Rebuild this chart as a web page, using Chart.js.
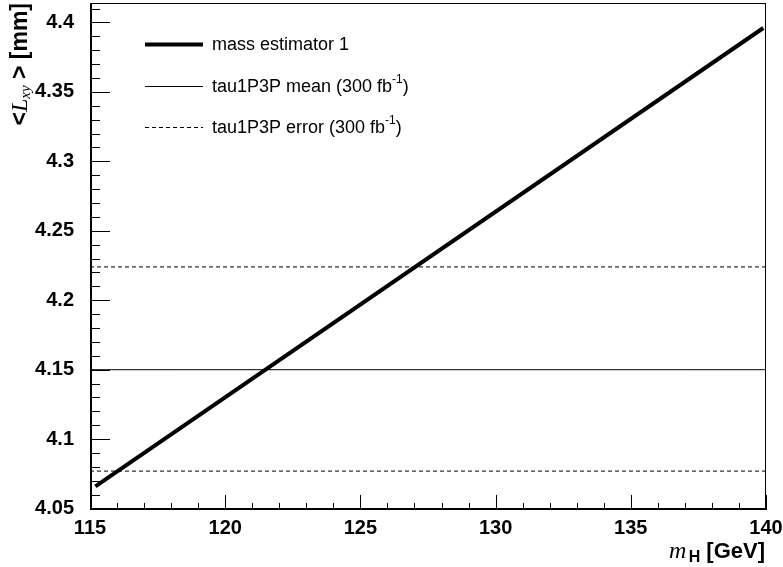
<!DOCTYPE html>
<html>
<head>
<meta charset="utf-8">
<script src="https://cdn.jsdelivr.net/npm/chart.js@4"></script>
<style>
  html, body { margin: 0; padding: 0; background: #fff; }
  #wrap { width: 783px; height: 567px; }
</style>
</head>
<body>
<div id="wrap"><canvas id="myChart" width="783" height="567"></canvas></div>
<script>
// values
const massX = [115.2, 139.9];
const massY = [4.066, 4.396];
const rangeX = [115, 140];
const meanValue = 4.15;
const errorLow = 4.077;
const errorHigh = 4.224;
const legendLabels = ["mass estimator 1", "tau1P3P mean (300 fb", "tau1P3P error (300 fb"];

const SANS = '"Liberation Sans", Arial, sans-serif';
const SERIF = '"Liberation Serif", "Times New Roman", serif';

function pts(xs, ys) {
  return xs.map((x, i) => ({ x: x, y: ys[i] }));
}

// draws ROOT-like inner ticks, frame, legend and axis titles
const rootStyle = {
  id: "rootStyle",
  afterDraw(chart) {
    const ctx = chart.ctx;
    const a = chart.chartArea;
    const xs = chart.scales.x;
    const ys = chart.scales.y;
    ctx.save();
    ctx.strokeStyle = "#000";
    ctx.lineWidth = 1;
    // frame
    ctx.strokeRect(a.left + 0.5, a.top + 0.5, a.right - a.left - 1, a.bottom - a.top - 1);
    ctx.beginPath();
    ctx.moveTo(a.left + 1.5, a.top);
    ctx.lineTo(a.left + 1.5, a.bottom);
    ctx.moveTo(a.left, a.bottom - 1.5);
    ctx.lineTo(a.right, a.bottom - 1.5);
    ctx.stroke();
    // y ticks
    ctx.beginPath();
    for (let i = 0; i <= 36; i++) {
      const v = 4.05 + i * 0.01;
      if (v > ys.max) break;
      const py = Math.round(ys.getPixelForValue(v)) + 0.5;
      const len = i % 5 === 0 ? 20 : 10;
      ctx.moveTo(a.left, py);
      ctx.lineTo(a.left + len, py);
    }
    // x ticks
    for (let v = rangeX[0]; v <= rangeX[1]; v++) {
      const px = Math.round(xs.getPixelForValue(v)) + 0.5;
      const len = v % 5 === 0 ? 15 : 7;
      ctx.moveTo(px, a.bottom);
      ctx.lineTo(px, a.bottom - len);
    }
    ctx.stroke();

    // legend
    const rows = [44, 86, 127];
    const styles = [[4, []], [1, []], [1, [4, 3]]];
    ctx.fillStyle = "#000";
    ctx.textBaseline = "middle";
    ctx.textAlign = "left";
    rows.forEach((ry, i) => {
      ctx.beginPath();
      ctx.lineWidth = styles[i][0];
      ctx.setLineDash(styles[i][1]);
      ctx.moveTo(145, ry + 0.5);
      ctx.lineTo(203, ry + 0.5);
      ctx.stroke();
      ctx.setLineDash([]);
      ctx.font = "18px " + SANS;
      ctx.fillText(legendLabels[i], 212, ry + 1);
      if (i > 0) {
        let x = 212 + ctx.measureText(legendLabels[i]).width;
        ctx.font = "12px " + SANS;
        ctx.fillText("-1", x, ry - 6);
        x += ctx.measureText("-1").width;
        ctx.font = "18px " + SANS;
        ctx.fillText(")", x, ry + 1);
      }
    });

    // x title
    ctx.textBaseline = "alphabetic";
    const xParts = [
      ["m", "italic 24px " + SERIF, 0],
      [" ", "bold 8px " + SANS, 0],
      ["H", "bold 16px " + SANS, 4],
      [" [GeV]", "bold 22px " + SANS, 0]
    ];
    let total = 0;
    xParts.forEach(p => { ctx.font = p[1]; total += ctx.measureText(p[0]).width; });
    let cx = 765 - total;
    xParts.forEach(p => {
      ctx.font = p[1];
      ctx.fillText(p[0], cx, 558 + p[2]);
      cx += ctx.measureText(p[0]).width;
    });

    // y title (rotated)
    const yParts = [
      ["<", "bold 23px " + SANS, 0],
      ["L", "italic 24px " + SERIF, 0],
      ["xy", "italic 15px " + SERIF, 3],
      [" > [mm]", "bold 23px " + SANS, 0]
    ];
    ctx.translate(27, 0);
    ctx.rotate(-Math.PI / 2);
    total = 0;
    yParts.forEach(p => { ctx.font = p[1]; total += ctx.measureText(p[0]).width; });
    let rx = -3 - total;
    yParts.forEach(p => {
      ctx.font = p[1];
      ctx.fillText(p[0], rx, p[2]);
      rx += ctx.measureText(p[0]).width;
    });
    ctx.restore();
  }
};

const ctx = document.getElementById("myChart").getContext("2d");
const chart = new Chart(ctx, {
  type: "scatter",
  data: {
    datasets: [
      {
        label: legendLabels[0],
        data: pts(massX, massY),
        showLine: true,
        borderColor: "#000",
        borderWidth: 4,
        pointRadius: 0
      },
      {
        label: "mean",
        data: pts(rangeX, [meanValue, meanValue]),
        showLine: true,
        borderColor: "#000",
        borderWidth: 1,
        pointRadius: 0
      },
      {
        label: "error low",
        data: pts(rangeX, [errorLow, errorLow]),
        showLine: true,
        borderColor: "#000",
        borderWidth: 1,
        borderDash: [4, 3],
        pointRadius: 0
      },
      {
        label: "error high",
        data: pts(rangeX, [errorHigh, errorHigh]),
        showLine: true,
        borderColor: "#000",
        borderWidth: 1,
        borderDash: [4, 3],
        pointRadius: 0
      }
    ]
  },
  options: {
    responsive: false,
    animation: false,
    layout: { padding: { left: 0, right: 17, top: 3, bottom: 0 } },
    plugins: { legend: { display: false }, tooltip: { enabled: false } },
    scales: {
      x: {
        type: "linear",
        min: rangeX[0],
        max: rangeX[1],
        grid: { display: false },
        border: { display: false },
        ticks: {
          stepSize: 5,
          includeBounds: false,
          color: "#000",
          padding: -2,
          font: { family: SANS, size: 20, weight: "bold" },
          maxRotation: 0
        },
        afterFit(s) {
          s.height = 57;
          s.paddingLeft = 0;
          s.paddingRight = 0;
        }
      },
      y: {
        min: 4.049,
        max: 4.414,
        grid: { display: false },
        border: { display: false },
        ticks: {
          stepSize: 0.05,
          includeBounds: false,
          color: "#000",
          padding: 8,
          font: { family: SANS, size: 20, weight: "bold" },
          callback: v => parseFloat(v.toFixed(2)).toString()
        },
        afterFit(s) {
          s.width = 90;
          s.paddingTop = 0;
          s.paddingBottom = 0;
        }
      }
    }
  },
  plugins: [rootStyle]
});
</script>
</body>
</html>
